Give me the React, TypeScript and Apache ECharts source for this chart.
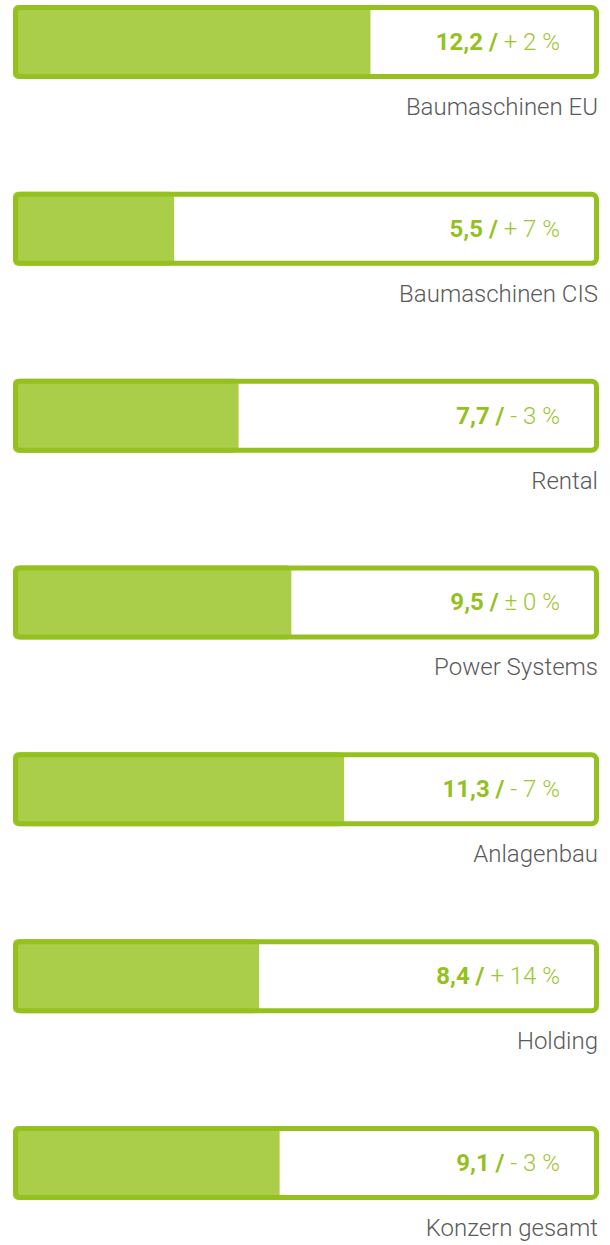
import React, { useEffect, useRef } from "react";
import * as echarts from "echarts";

const categories = [
  "Baumaschinen EU",
  "Baumaschinen CIS",
  "Rental",
  "Power Systems",
  "Anlagenbau",
  "Holding",
  "Konzern gesamt",
];
const values = [12.2, 5.5, 7.7, 9.5, 11.3, 8.4, 9.1];
const changes = ["+ 2 %", "+ 7 %", "- 3 %", "± 0 %", "- 7 %", "+ 14 %", "- 3 %"];
const axisMax = 20;

const FONT = "Roboto, 'Liberation Sans', sans-serif";
const BORDER = "#95c11f";
const FILL = "#aacd4a";

const fmt = (v: number) => v.toFixed(1).replace(".", ",");

export default function App() {
  const ref = useRef<HTMLDivElement>(null);
  useEffect(() => {
    if (!ref.current) return;
    const chart = echarts.init(ref.current, undefined, { renderer: "svg" });
    const n = categories.length;
    const band = 186.83;
    const barH = 74;
    const firstCenter = 5 + barH / 2;
    chart.setOption({
      animation: false,
      grid: {
        left: 13,
        right: 11,
        top: firstCenter,
        height: band * (n - 1),
        containLabel: false,
      },
      xAxis: { type: "value", min: 0, max: axisMax, show: false },
      yAxis: {
        type: "category",
        data: categories,
        inverse: true,
        show: false,
        boundaryGap: false,
      },
      series: [
        {
          type: "bar",
          name: "bg",
          data: categories.map(() => axisMax),
          barWidth: barH,
          barGap: "-100%",
          clip: false,
          itemStyle: { color: "#ffffff", borderRadius: 5 },
          z: 1,
          silent: true,
          label: {
            show: true,
            position: ["100%", "100%"],
            align: "right",
            verticalAlign: "middle",
            offset: [-1, 28],
            formatter: (p: any) => p.name,
            fontFamily: FONT,
            fontSize: 24,
            fontWeight: 300,
            color: "#5a5a5a",
          },
        },
        {
          type: "bar",
          name: "fill",
          data: values,
          barWidth: barH,
          barGap: "-100%",
          clip: false,
          itemStyle: { color: FILL, borderRadius: 5 },
          z: 2,
          silent: true,
        },
        {
          type: "bar",
          name: "frame",
          data: categories.map(() => axisMax),
          barWidth: barH,
          barGap: "-100%",
          clip: false,
          itemStyle: {
            color: "rgba(0,0,0,0)",
            borderColor: BORDER,
            borderWidth: 5,
            borderRadius: 5,
          },
          z: 3,
          silent: true,
          label: {
            show: true,
            position: "insideRight",
            distance: 39,
            formatter: (p: any) =>
              `{b|${fmt(values[p.dataIndex])} /}{c|\u00a0${changes[p.dataIndex]}}`,
            rich: {
              b: {
                fontFamily: FONT,
                fontSize: 24,
                fontWeight: "bold",
                color: BORDER,
              },
              c: {
                fontFamily: FONT,
                fontSize: 24,
                fontWeight: 300,
                color: "#9cc62e",
              },
            },
          },
        },
      ],
    });
    return () => chart.dispose();
  }, []);
  return <div ref={ref} style={{ width: 610, height: 1245, position: "absolute", left: 0, top: 0 }} />;
}
